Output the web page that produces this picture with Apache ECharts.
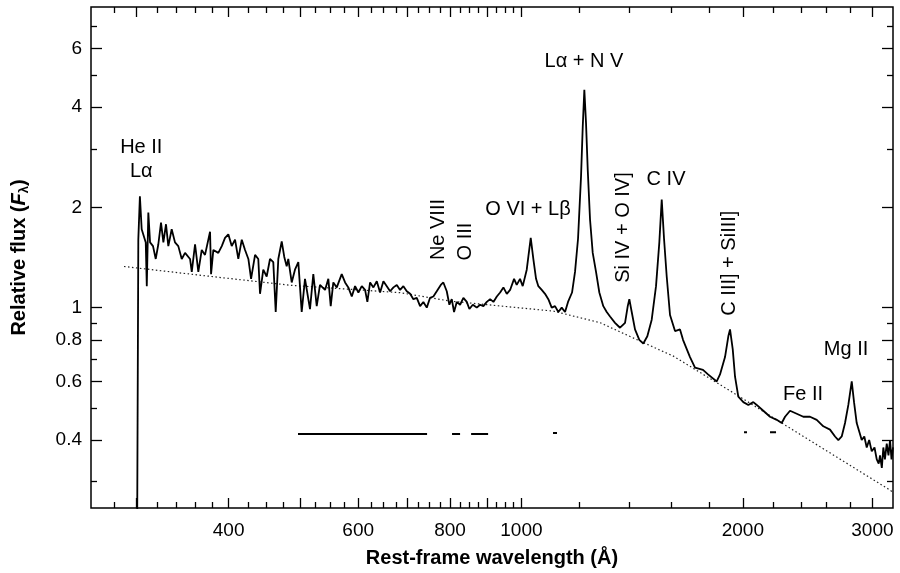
<!DOCTYPE html>
<html><head><meta charset="utf-8">
<script src="https://cdn.jsdelivr.net/npm/echarts@6/dist/echarts.min.js"></script>
<style>html,body{margin:0;padding:0;background:#fff}#c{width:900px;height:573px}</style>
</head><body><div id="c"></div>
<script>
// ---------- data ----------
const specWave = [300, 301.5, 303.0, 304.7, 306.3, 308.6, 309.6, 311.1, 312.8, 315.7, 318.4, 321.0, 323.7, 326.1, 328.8, 331.2, 334.7, 338.2, 341.7, 345.4, 349.0, 354.5, 356.4, 360.1, 363.8, 367.7, 371.5, 377.4, 378.6, 381.3, 387.3, 391.5, 395.5, 399.6, 403.9, 408.1, 412.3, 416.8, 421.1, 425.5, 429.1, 434.5, 438.9, 441.3, 445.8, 450.6, 455.3, 460.0, 463.5, 467.3, 472.3, 476.1, 479.7, 482.1, 487.3, 492.3, 497.5, 502.8, 508.0, 516.0, 521.4, 527.0, 532.4, 540.9, 546.5, 550.6, 555.1, 561.1, 569.9, 575.9, 581.8, 588.1, 594.2, 600.4, 606.8, 613.1, 617.5, 622.8, 629.3, 636.0, 642.6, 649.3, 656.2, 663.1, 670.0, 677.1, 684.1, 691.2, 698.6, 705.9, 713.2, 720.8, 728.3, 735.8, 743.7, 751.4, 759.2, 767.3, 777.0, 783.3, 791.7, 798.2, 804.2, 810.0, 816.9, 825.4, 834.0, 842.9, 849.8, 858.9, 869.7, 878.7, 887.9, 897.4, 906.8, 916.2, 926.0, 935.6, 945.3, 955.4, 965.3, 977.4, 985.5, 995.8, 1004.2, 1016.9, 1022.0, 1029.7, 1038.1, 1047.0, 1054.5, 1065.8, 1076.8, 1088.0, 1099.6, 1111.0, 1122.6, 1134.6, 1146.4, 1157.2, 1171.8, 1182.8, 1194.0, 1205.2, 1211.7, 1217.8, 1224.2, 1230.8, 1239.7, 1250.2, 1263.2, 1276.3, 1292.3, 1306.2, 1319.8, 1340.6, 1361.8, 1383.3, 1395.0, 1402.0, 1412.5, 1427.1, 1446.5, 1464.7, 1483.2, 1503.7, 1524.1, 1540.0, 1551.6, 1562.8, 1576.0, 1592.4, 1617.5, 1643.0, 1658.5, 1695.2, 1722.0, 1765.6, 1793.5, 1843.0, 1862.1, 1891.5, 1911.2, 1921.4, 1937.7, 1951.7, 1971.9, 2003.0, 2034.6, 2066.7, 2088.8, 2132.4, 2177.6, 2223.8, 2258.9, 2282.4, 2318.4, 2367.5, 2416.9, 2468.1, 2520.4, 2573.0, 2627.5, 2669.0, 2696.7, 2725.6, 2753.9, 2782.5, 2812.3, 2832.6, 2856.5, 2901.6, 2925, 2947.4, 2970, 2994.0, 3020, 3041.3, 3060, 3072.8, 3090, 3104.7, 3120, 3137.9, 3155, 3170.5, 3185, 3200];
const specFlux = [0.1, 1.60, 2.16, 1.72, 1.74, 1.57, 1.16, 1.93, 1.57, 1.53, 1.40, 1.55, 1.80, 1.57, 1.78, 1.53, 1.72, 1.57, 1.53, 1.40, 1.46, 1.40, 1.28, 1.55, 1.28, 1.49, 1.44, 1.69, 1.26, 1.49, 1.46, 1.53, 1.62, 1.66, 1.53, 1.60, 1.40, 1.60, 1.49, 1.40, 1.22, 1.44, 1.40, 1.10, 1.30, 1.24, 1.40, 1.37, 0.97, 1.40, 1.58, 1.42, 1.33, 1.40, 1.19, 1.30, 1.37, 0.97, 1.22, 0.99, 1.26, 1.01, 1.17, 1.13, 1.22, 1.01, 1.19, 1.15, 1.26, 1.19, 1.15, 1.08, 1.16, 1.11, 1.16, 1.13, 1.04, 1.19, 1.15, 1.20, 1.11, 1.20, 1.16, 1.12, 1.15, 1.17, 1.13, 1.16, 1.12, 1.10, 1.06, 1.07, 1.01, 1.04, 1.00, 1.07, 1.08, 1.12, 1.17, 1.19, 1.12, 1.02, 1.06, 0.97, 1.04, 1.02, 1.07, 1.04, 0.99, 1.02, 1.00, 1.02, 1.01, 1.04, 1.06, 1.04, 1.08, 1.11, 1.15, 1.10, 1.13, 1.22, 1.17, 1.22, 1.16, 1.30, 1.42, 1.62, 1.40, 1.22, 1.16, 1.13, 1.10, 1.06, 1.00, 1.01, 0.97, 1.00, 0.97, 1.04, 1.11, 1.28, 1.61, 2.47, 3.49, 4.51, 3.59, 2.60, 1.84, 1.46, 1.28, 1.11, 1.01, 0.97, 0.94, 0.90, 0.87, 0.90, 1.01, 1.06, 0.97, 0.86, 0.80, 0.78, 0.82, 0.92, 1.16, 1.57, 2.11, 1.61, 1.24, 0.95, 0.85, 0.86, 0.80, 0.71, 0.66, 0.65, 0.63, 0.60, 0.63, 0.71, 0.82, 0.86, 0.75, 0.62, 0.54, 0.52, 0.51, 0.52, 0.51, 0.49, 0.47, 0.46, 0.45, 0.47, 0.49, 0.48, 0.47, 0.47, 0.46, 0.44, 0.43, 0.41, 0.40, 0.41, 0.45, 0.51, 0.60, 0.52, 0.45, 0.40, 0.41, 0.38, 0.40, 0.37, 0.38, 0.35, 0.34, 0.36, 0.33, 0.38, 0.35, 0.39, 0.36, 0.40, 0.35, 0.38];

const contWave = [288.3, 375.4, 487.3, 684.1, 799.9, 1105.1, 1279.2, 1464.7, 1608.9, 1971.9, 2270.4, 3153.6, 3200];
const contFlux = [1.329, 1.243, 1.166, 1.109, 1.046, 0.976, 0.901, 0.785, 0.715, 0.543, 0.447, 0.285, 0.279];

// short horizontal coverage bars (null separates segments)
const barWave = [497.0, 744.4, null, 804.9, 825.4, null, 854.4, 901.1, null, 1104.1, 1118.0, null, 2007.4, 2026.3, null, 2177.6, 2219.0];
const barFlux = [0.417, 0.417, null, 0.417, 0.417, null, 0.417, 0.417, null, 0.420, 0.420, null, 0.4225, 0.4225, null, 0.4225, 0.4225];

const xMajorTicks = [300, 400, 500, 600, 700, 800, 900, 1000, 2000, 3000];
const xMinorTicks = [280, 320, 340, 360, 380, 425, 450, 475, 525, 550, 575, 625, 650, 675, 725, 750, 775, 825, 850, 875, 925, 950, 975, 1200, 1400, 1600, 1800, 2200, 2400, 2600, 2800];
const xTickLabels = [400, 600, 800, 1000, 2000, 3000];
const yMajorTicks = [0.4, 0.6, 0.8, 1, 2, 4, 6];
const yMinorTicks = [0.3, 0.5, 0.7, 0.9, 3, 5, 7];
const yTickLabels = [0.4, 0.6, 0.8, 1, 2, 4, 6];

const annoText = ['He II\nLα', 'Ne VIII', 'O III', 'O VI + Lβ', 'Lα + N V', 'Si IV + O IV]', 'C IV', 'C III] + SiIII]', 'Fe II', 'Mg II'];
const annoWave = [304.3, 770.5, 838.5, 1021.0, 1216.6, 1374.7, 1572.6, 1915.4, 2414.5, 2762.5];
const annoFlux = [2.78, 1.716, 1.579, 1.970, 5.47, 1.740, 2.423, 1.36, 0.549, 0.75];
const annoRotate = [0, 90, 90, 0, 0, 90, 0, 90, 0, 0];

// ---------- chart ----------
const FONT = '"Liberation Sans", Arial, Helvetica, sans-serif';
const ink = '#000';
const X_MIN = 260, X_MAX = 3200, Y_MIN = 0.25, Y_MAX = 8;
const pairs = (a, b) => a.map((v, i) => (v === null ? [null, null] : [v, b[i]]));
const fmtNum = v => String(parseFloat(Number(v).toPrecision(4)));

function xAxisDef(pos, ticks, len, labels) {
  return {
    type: 'log', logBase: 10, min: X_MIN, max: X_MAX, position: pos, offset: 0,
    axisLine: { show: false, onZero: false }, splitLine: { show: false }, minorTick: { show: false },
    axisTick: { show: true, inside: true, length: len, customValues: ticks, lineStyle: { color: ink, width: 1.3 } },
    axisLabel: labels ? { show: true, customValues: labels, formatter: v => fmtNum(v), margin: 13, color: ink, fontFamily: FONT, fontSize: 19 } : { show: false }
  };
}
function yAxisDef(pos, ticks, len, labels) {
  return {
    type: 'log', logBase: 10, min: Y_MIN, max: Y_MAX, position: pos, offset: 0,
    axisLine: { show: false, onZero: false }, splitLine: { show: false }, minorTick: { show: false },
    axisTick: { show: true, inside: true, length: len, customValues: ticks, lineStyle: { color: ink, width: 1.3 } },
    axisLabel: labels ? { show: true, customValues: labels, formatter: v => fmtNum(v), margin: 9, color: ink, fontFamily: FONT, fontSize: 19 } : { show: false }
  };
}

const xMain = xAxisDef('bottom', xMajorTicks, 10, xTickLabels);
xMain.name = 'Rest-frame wavelength (Å)';
xMain.nameLocation = 'middle';
xMain.nameGap = 40;
xMain.nameTextStyle = { fontFamily: FONT, fontWeight: 'bold', fontSize: 20, color: ink };

const yMain = yAxisDef('left', yMajorTicks, 11, yTickLabels);
yMain.name = '{b|Relative flux (}{i|F}{s|λ}{b|)}';
yMain.nameLocation = 'middle';
yMain.nameRotate = 90;
yMain.nameGap = 60;
yMain.nameTextStyle = {
  rich: {
    b: { fontFamily: FONT, fontWeight: 'bold', fontSize: 20, color: ink, lineHeight: 24 },
    i: { fontFamily: FONT, fontWeight: 'bold', fontStyle: 'italic', fontSize: 20, color: ink, lineHeight: 24 },
    s: { fontFamily: FONT, fontWeight: 'bold', fontSize: 13, color: ink, lineHeight: 24, verticalAlign: 'bottom', padding: [9, 0, 0, 0] }
  }
};

const annoData = annoText.map((t, i) => ({
  value: [annoWave[i], annoFlux[i]],
  label: { formatter: t, rotate: annoRotate[i] }
}));

const chart = echarts.init(document.getElementById('c'), null, { renderer: 'canvas' });
chart.setOption({
  animation: false,
  backgroundColor: '#fff',
  grid: { left: 91, right: 7, top: 7, bottom: 64, show: true, borderColor: ink, borderWidth: 1.5, backgroundColor: 'transparent' },
  xAxis: [
    xMain,
    xAxisDef('bottom', xMinorTicks, 6, null),
    xAxisDef('top', xMajorTicks, 10, null),
    xAxisDef('top', xMinorTicks, 6, null)
  ],
  yAxis: [
    yMain,
    yAxisDef('left', yMinorTicks, 6, null),
    yAxisDef('right', yMajorTicks, 11, null),
    yAxisDef('right', yMinorTicks, 6, null)
  ],
  series: [
    {
      name: 'continuum', type: 'line', xAxisIndex: 0, yAxisIndex: 0, silent: true,
      showSymbol: false, symbol: 'none', clip: true,
      lineStyle: { color: '#222', width: 1.2, type: [1.5, 2.5] },
      data: pairs(contWave, contFlux)
    },
    {
      name: 'spectrum', type: 'line', xAxisIndex: 0, yAxisIndex: 0, silent: true,
      showSymbol: false, symbol: 'none', clip: true,
      lineStyle: { color: ink, width: 1.8 },
      data: pairs(specWave, specFlux)
    },
    {
      name: 'bars', type: 'line', xAxisIndex: 0, yAxisIndex: 0, silent: true,
      showSymbol: false, symbol: 'none', connectNulls: false,
      lineStyle: { color: ink, width: 2 },
      data: pairs(barWave, barFlux)
    },
    {
      name: 'labels', type: 'scatter', xAxisIndex: 0, yAxisIndex: 0, silent: true,
      symbolSize: 0, itemStyle: { color: ink, opacity: 1 },
      label: { show: true, position: [0, 0], align: 'center', verticalAlign: 'middle', color: ink, opacity: 1, textBorderWidth: 0, fontFamily: FONT, fontSize: 20, lineHeight: 24 },
      data: annoData
    }
  ]
});
</script></body></html>
